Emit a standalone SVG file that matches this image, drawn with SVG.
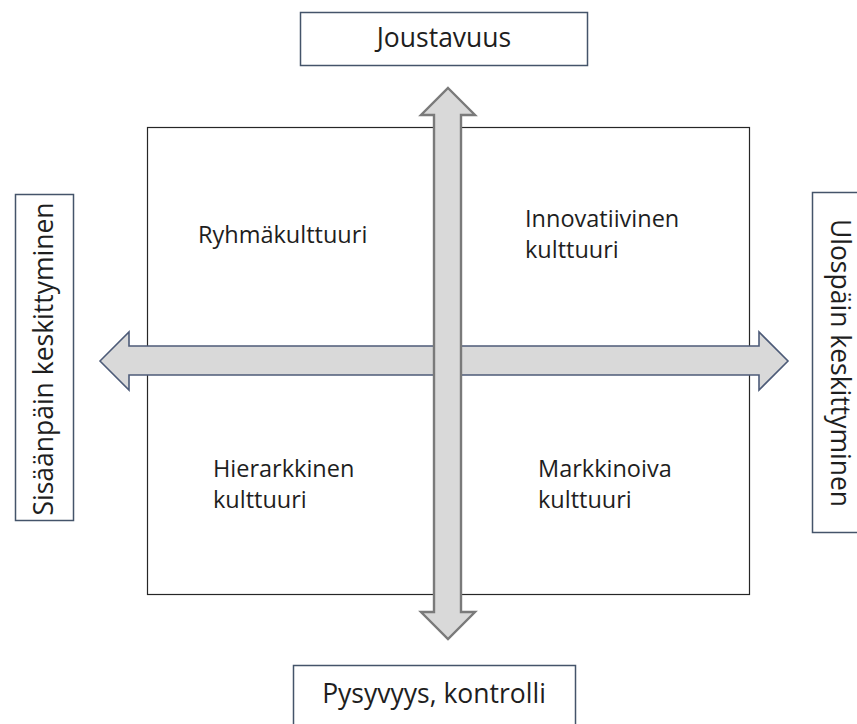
<svg xmlns="http://www.w3.org/2000/svg" width="857" height="724" viewBox="0 0 857 724">
  <style>
    .label { font-family: "Open Sans", "Liberation Sans", sans-serif; font-size: 26.5px; fill: #1e1e1e; }
    .quad { font-family: "Open Sans", "Liberation Sans", sans-serif; font-size: 23.5px; fill: #1e1e1e; }
    .box { fill: #ffffff; stroke: #44546a; stroke-width: 1.5; }
    .frame { fill: none; stroke: #262626; stroke-width: 1.2; }
    .arrow-h { fill: #d9d9d9; stroke: #4d5b78; stroke-width: 1.6; stroke-linejoin: miter; }
    .arrow-v { fill: #d9d9d9; stroke: #7a7a7a; stroke-width: 2.4; stroke-linejoin: miter; }
  </style>

  <rect width="857" height="724" fill="#ffffff"/>

  <!-- central quadrant frame -->
  <g id="frame">
    <rect class="frame" x="147.5" y="127.5" width="602" height="467"/>
  </g>

  <!-- axis arrows -->
  <g id="connectors">
    <polygon class="arrow-h" points="100,361 129,332 129,346 759,346 759,332 788,361 759,390 759,375 129,375 129,390"/>
    <polygon class="arrow-v" points="448,88 475,115 461,115 461,612 475,612 448,639 421,612 434,612 434,115 421,115"/>
  </g>

  <!-- axis labels -->
  <g id="top-label">
    <rect class="box" x="300.5" y="12.5" width="287" height="53"/>
    <text class="label" x="444" y="47" text-anchor="middle">Joustavuus</text>
  </g>

  <g id="bottom-label">
    <rect class="box" x="293.5" y="665.5" width="282" height="70"/>
    <text class="label" x="434" y="703" text-anchor="middle">Pysyvyys, kontrolli</text>
  </g>

  <g id="left-label">
    <rect class="box" x="15.5" y="194.5" width="58" height="326"/>
    <text class="label" transform="translate(52.5,359) rotate(-90)" text-anchor="middle">Sisäänpäin keskittyminen</text>
  </g>

  <g id="right-label">
    <rect class="box" x="812.5" y="192.5" width="60" height="340"/>
    <text class="label" transform="translate(830.5,363) rotate(90)" text-anchor="middle">Ulospäin keskittyminen</text>
  </g>

  <!-- quadrant names -->
  <g id="group-culture">
    <text class="quad" x="198" y="243">Ryhmäkulttuuri</text>
  </g>

  <g id="innovative-culture">
    <text class="quad" x="525" y="227">Innovatiivinen</text>
    <text class="quad" x="525" y="258">kulttuuri</text>
  </g>

  <g id="hierarchical-culture">
    <text class="quad" x="213" y="477">Hierarkkinen</text>
    <text class="quad" x="213" y="508">kulttuuri</text>
  </g>

  <g id="market-culture">
    <text class="quad" x="538" y="477">Markkinoiva</text>
    <text class="quad" x="538" y="508">kulttuuri</text>
  </g>
</svg>
